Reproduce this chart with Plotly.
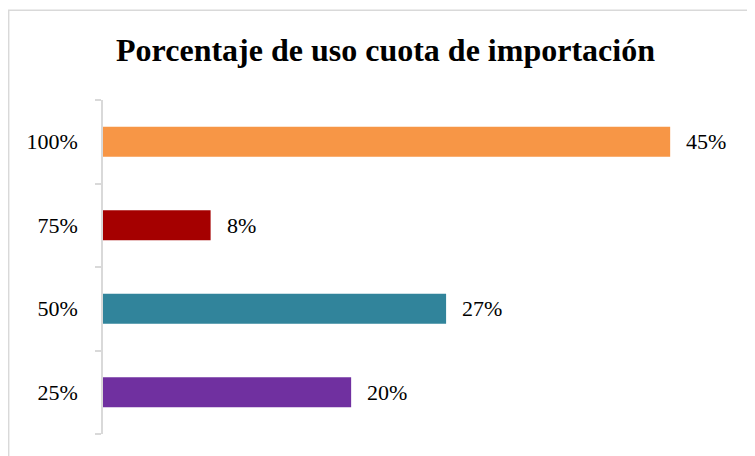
import plotly.graph_objects as go

# Datos del gráfico
categorias = ['25%', '50%', '75%', '100%']
porcentajes = [19.6, 27.1, 8.5, 44.8]
etiquetas = ['20%', '27%', '8%', '45%']
colores = ['#7030A0', '#31849B', '#A50000', '#F79646']

FUENTE = 'Liberation Serif, Times New Roman, serif'

fig = go.Figure()

fig.add_trace(go.Bar(
    x=porcentajes,
    y=categorias,
    orientation='h',
    marker=dict(color=colores, line=dict(width=0)),
    width=0.36,
    hoverinfo='x+y',
))

# Etiquetas de datos a la derecha de cada barra
for cat, val, txt in zip(categorias, porcentajes, etiquetas):
    fig.add_annotation(
        x=val, y=cat, text=txt, showarrow=False,
        xanchor='left', xshift=14,
        font=dict(family=FUENTE, size=22, color='black'),
    )

# Marco del área del gráfico (izquierda y arriba)
fig.add_shape(
    type='path', xref='paper', yref='paper',
    path='M -0.149 -0.2 L -0.149 1.269 L 1.2 1.269',
    line=dict(color='#d9d9d9', width=1.5),
)

fig.update_layout(
    title=dict(
        text='<b>Porcentaje de uso cuota de importación</b>',
        x=0.5, xanchor='center',
        y=0.908, yanchor='middle',
        font=dict(family=FUENTE, size=32, color='black'),
    ),
    width=755,
    height=456,
    margin=dict(l=95, r=27, t=92, b=30),
    plot_bgcolor='white',
    paper_bgcolor='white',
    showlegend=False,
    xaxis=dict(
        range=[0, 50],
        visible=False,
        showgrid=False,
        zeroline=False,
    ),
    yaxis=dict(
        type='category',
        categoryorder='array',
        categoryarray=categorias,
        showline=True,
        linecolor='#d9d9d9',
        linewidth=1.5,
        ticks='outside',
        tickson='boundaries',
        ticklen=6,
        tickcolor='#d9d9d9',
        tickwidth=1.5,
        ticklabelstandoff=19,
        tickfont=dict(family=FUENTE, size=22, color='black'),
        showgrid=False,
    ),
)

fig.write_html('out.html')
